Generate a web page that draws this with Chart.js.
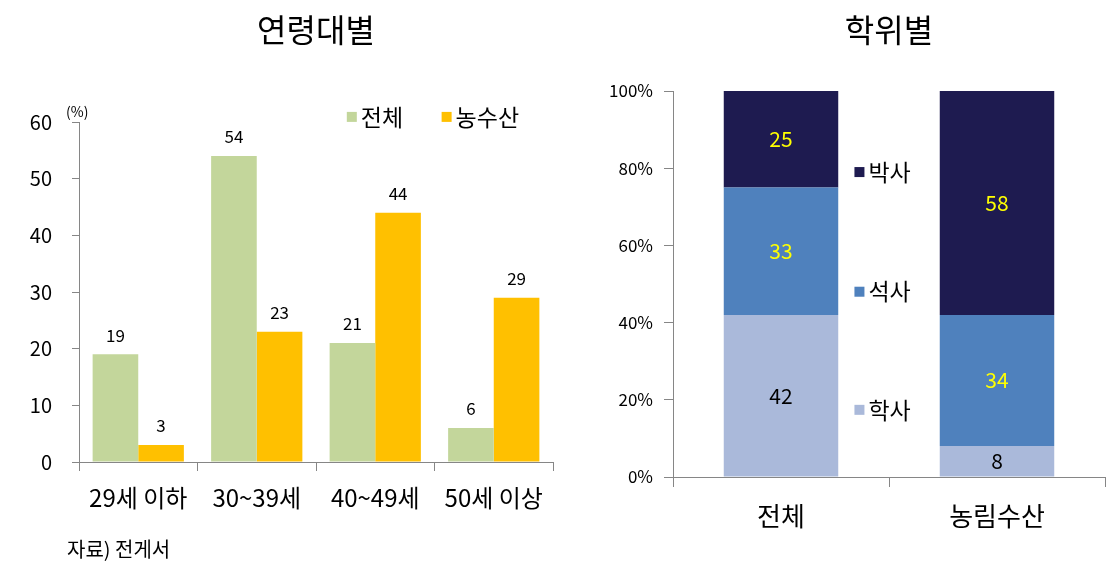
<!DOCTYPE html>
<html>
<head>
<meta charset="utf-8">
<script src="https://cdn.jsdelivr.net/npm/chart.js@4"></script>
<style>
  body { margin: 0; background: #fff; }
  #wrap { position: relative; width: 1111px; height: 573px; }
  #ageBox { position: absolute; left: 0; top: 0; width: 560px; height: 573px; }
  #degreeBox { position: absolute; left: 560px; top: 0; width: 551px; height: 573px; }
</style>
</head>
<body>
<div id="wrap">
  <div id="ageBox"><canvas id="ageChart"></canvas></div>
  <div id="degreeBox"><canvas id="degreeChart"></canvas></div>
</div>
<script>
// 연령대별
const ageLabels = ["29세 이하", "30~39세", "40~49세", "50세 이상"];
const ageTotal = [19, 54, 21, 6];
const ageAgri = [3, 23, 44, 29];

// 학위별
const degreeLabels = ["전체", "농림수산"];
const bachelor = [42, 8];
const master = [33, 34];
const doctor = [25, 58];

const FONT = "'Noto Sans CJK KR', 'Noto Sans', sans-serif";
Chart.defaults.font.family = FONT;
Chart.defaults.color = "#000";
const AXIS = "#868686";

// value labels above grouped bars
const barTopLabels = {
  id: "barTopLabels",
  afterDatasetsDraw(chart) {
    const ctx = chart.ctx;
    ctx.save();
    ctx.font = "17px " + FONT;
    ctx.fillStyle = "#000";
    ctx.textAlign = "center";
    ctx.textBaseline = "middle";
    chart.data.datasets.forEach((ds, i) => {
      chart.getDatasetMeta(i).data.forEach((bar, j) => {
        ctx.fillText(ds.data[j], bar.x, bar.y - 19);
      });
    });
    ctx.restore();
  }
};

// labels inside stacked segments
const stackLabels = {
  id: "stackLabels",
  afterDatasetsDraw(chart) {
    const ctx = chart.ctx;
    ctx.save();
    ctx.font = "21px " + FONT;
    ctx.textAlign = "center";
    ctx.textBaseline = "middle";
    chart.data.datasets.forEach((ds, i) => {
      chart.getDatasetMeta(i).data.forEach((bar, j) => {
        ctx.fillStyle = ds.labelColor;
        ctx.fillText(ds.data[j], bar.x, (bar.y + bar.base) / 2);
      });
    });
    ctx.restore();
  }
};

// simple legend drawn on the canvas
const boxLegend = {
  id: "boxLegend",
  afterDraw(chart, args, opts) {
    const ctx = chart.ctx;
    const a = chart.chartArea;
    ctx.save();
    ctx.font = opts.fontSize + "px " + FONT;
    ctx.textBaseline = "middle";
    opts.items.forEach((it) => {
      const ds = chart.data.datasets[it.index];
      const x = a.left + (a.right - a.left) * it.fx;
      const y = a.top + (a.bottom - a.top) * it.fy;
      ctx.fillStyle = ds.backgroundColor;
      ctx.fillRect(x, y - 5, 10, 10);
      ctx.fillStyle = "#000";
      ctx.fillText(ds.label, x + 14, y);
    });
    if (opts.notes) {
      opts.notes.forEach((n) => {
        ctx.font = n.size + "px " + FONT;
        ctx.fillStyle = "#000";
        ctx.fillText(n.text, n.x, n.y);
      });
    }
    ctx.restore();
  }
};

new Chart(document.getElementById("ageChart"), {
  type: "bar",
  data: {
    labels: ageLabels,
    datasets: [
      { label: "전체", data: ageTotal, backgroundColor: "#C3D69B" },
      { label: "농수산", data: ageAgri, backgroundColor: "#FFC000" }
    ]
  },
  options: {
    responsive: true,
    maintainAspectRatio: false,
    animation: false,
    layout: { padding: { left: 0, right: 7, top: 0, bottom: 0 } },
    datasets: { bar: { categoryPercentage: 0.77, barPercentage: 1 } },
    plugins: {
      legend: { display: false },
      tooltip: { enabled: false },
      title: {
        display: true,
        fullSize: false,
        text: "연령대별",
        font: { size: 32, weight: "normal" },
        padding: { top: 11, bottom: 72.6 }
      },
      boxLegend: {
        fontSize: 23,
        items: [
          { index: 0, fx: 0.565, fy: -0.015 },
          { index: 1, fx: 0.765, fy: -0.015 }
        ],
        notes: [
          { text: "(%)", x: 66, y: 112, size: 14 },
          { text: "자료) 전게서", x: 67, y: 549, size: 20 }
        ]
      }
    },
    scales: {
      x: {
        afterFit(s) { s.height = 111; },
        grid: { drawOnChartArea: false, color: AXIS, tickLength: 9 },
        border: { color: AXIS },
        ticks: { font: { size: 24 }, padding: 12 }
      },
      y: {
        min: 0, max: 60,
        afterFit(s) { s.width = 79; },
        grid: { drawOnChartArea: false, color: AXIS, tickLength: 7 },
        border: { color: AXIS },
        ticks: { stepSize: 10, font: { size: 20 }, padding: 20 }
      }
    }
  },
  plugins: [barTopLabels, boxLegend]
});

new Chart(document.getElementById("degreeChart"), {
  type: "bar",
  data: {
    labels: degreeLabels,
    datasets: [
      { label: "학사", data: bachelor, backgroundColor: "#AAB9DA", labelColor: "#000" },
      { label: "석사", data: master, backgroundColor: "#4F81BD", labelColor: "#FFFF00" },
      { label: "박사", data: doctor, backgroundColor: "#1E1B50", labelColor: "#FFFF00" }
    ]
  },
  options: {
    responsive: true,
    maintainAspectRatio: false,
    animation: false,
    layout: { padding: { left: 0, right: 6, top: 0, bottom: 0 } },
    datasets: { bar: { categoryPercentage: 0.53, barPercentage: 1 } },
    plugins: {
      legend: { display: false },
      tooltip: { enabled: false },
      title: {
        display: true,
        fullSize: false,
        text: "학위별",
        font: { size: 32, weight: "normal" },
        padding: { top: 11, bottom: 41.6 }
      },
      boxLegend: {
        fontSize: 23,
        items: [
          { index: 2, fx: 0.42, fy: 0.21 },
          { index: 1, fx: 0.42, fy: 0.52 },
          { index: 0, fx: 0.42, fy: 0.826 }
        ]
      }
    },
    scales: {
      x: {
        stacked: true,
        afterFit(s) { s.height = 96; },
        grid: { drawOnChartArea: false, color: AXIS, tickLength: 10 },
        border: { color: AXIS },
        ticks: { font: { size: 26 }, padding: 14 }
      },
      y: {
        stacked: true,
        min: 0, max: 100,
        afterFit(s) { s.width = 113; },
        grid: { drawOnChartArea: false, color: AXIS, tickLength: 9 },
        border: { color: AXIS },
        ticks: { stepSize: 20, font: { size: 17 }, padding: 11, callback: (v) => v + "%" }
      }
    }
  },
  plugins: [stackLabels, boxLegend]
});
</script>
</body>
</html>
